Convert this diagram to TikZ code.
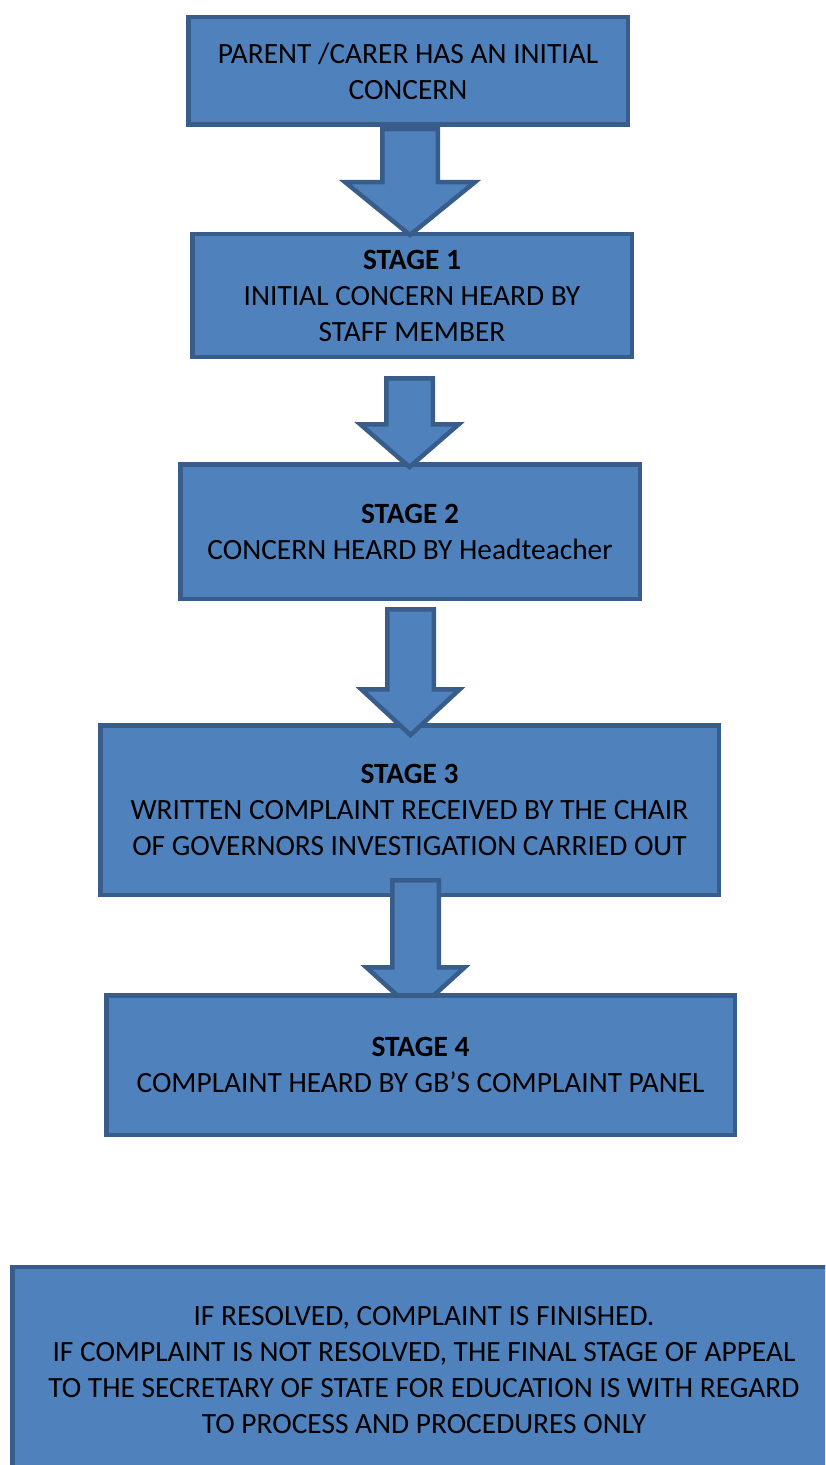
\documentclass[tikz,border=0pt]{standalone}
\usepackage{fontspec}
\setmainfont{Carlito}
\usetikzlibrary{calc}
\definecolor{boxfill}{HTML}{4F81BD}
\definecolor{boxline}{HTML}{385D8A}
% block arrow: top, tip, shaft half width, head half width, head length (px)
\newcommand{\stagearrow}[5]{%
  \draw[stagearrow] let \p1=(#1), \p2=(#2) in
    (\x1-#3*0.5pt,\y1) -- (\x1-#3*0.5pt,\y2+#5*0.5pt) -- (\x1-#4*0.5pt,\y2+#5*0.5pt) -- (\x2,\y2)
    -- (\x1+#4*0.5pt,\y2+#5*0.5pt) -- (\x1+#3*0.5pt,\y2+#5*0.5pt) -- (\x1+#3*0.5pt,\y1) -- cycle;}
\begin{document}
\begin{tikzpicture}[x=0.5pt, y=-0.5pt,
  stagebox/.style={draw=boxline, fill=boxfill, line width=2.25pt, align=center, inner sep=0pt,
    font=\fontsize{14.7pt}{18pt}\selectfont},
  stagearrow/.style={draw=boxline, fill=boxfill, line width=2.25pt, line join=miter}]
\useasboundingbox (0,0) rectangle (825,1465);
\clip (0,0) rectangle (825,1465);
\node[stagebox, minimum width=219.75pt, minimum height=53.75pt] (st0) at (408,71) {PARENT /CARER HAS AN INITIAL\\CONCERN};
\node[stagebox, minimum width=219.75pt, minimum height=61.25pt] (st1) at (412,295.5) {\textbf{STAGE 1}\\INITIAL CONCERN HEARD BY\\STAFF MEMBER};
\node[stagebox, minimum width=229.75pt, minimum height=67.25pt] (st2) at (410,531.5) {\textbf{STAGE 2}\\CONCERN HEARD BY Headteacher};
\node[stagebox, minimum width=309.25pt, minimum height=84.75pt] (st3) at (409.5,810) {\textbf{STAGE 3}\\WRITTEN COMPLAINT RECEIVED BY THE CHAIR\\OF GOVERNORS INVESTIGATION CARRIED OUT};
\coordinate (a1top) at (410,129.25);
\coordinate (a1tip) at (410,235);
\coordinate (a2top) at (409.5,378.25);
\coordinate (a2tip) at (409.5,467);
\coordinate (a3top) at (410.5,609.25);
\coordinate (a3tip) at (410.5,735);
\coordinate (a4top) at (415.5,880.25);
\coordinate (a4tip) at (415.5,1012);
\stagearrow{a1top}{a1tip}{27.75}{64.75}{52.75}
\stagearrow{a2top}{a2tip}{23.25}{49.25}{42.75}
\stagearrow{a3top}{a3tip}{23.25}{49.25}{45.75}
\stagearrow{a4top}{a4tip}{23.25}{49.25}{44.75}
\node[stagebox, minimum width=314.25pt, minimum height=69.75pt] (st4) at (420.5,1065) {\textbf{STAGE 4}\\COMPLAINT HEARD BY GB’S COMPLAINT PANEL};
\node[stagebox, minimum width=411.75pt, minimum height=103pt] (res) at (424,1370) {IF RESOLVED, COMPLAINT IS FINISHED.\\IF COMPLAINT IS NOT RESOLVED, THE FINAL STAGE OF APPEAL\\TO THE SECRETARY OF STATE FOR EDUCATION IS WITH REGARD\\TO PROCESS AND PROCEDURES ONLY};
\end{tikzpicture}
\end{document}
